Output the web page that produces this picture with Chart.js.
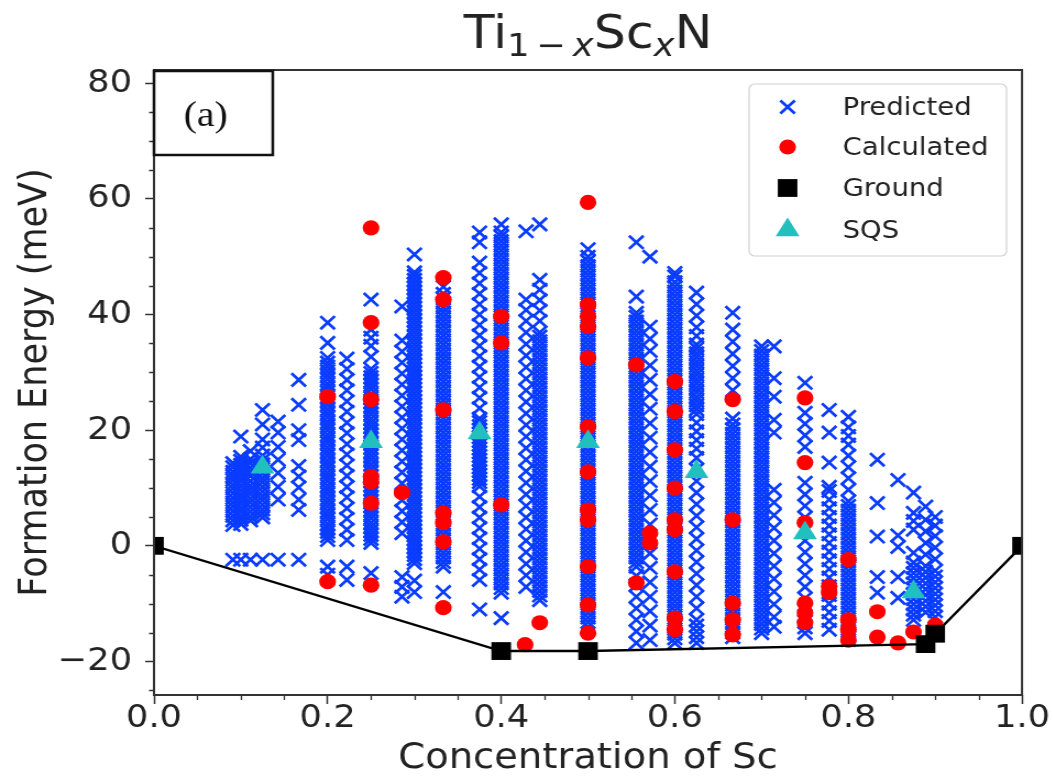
<!DOCTYPE html>
<html>
<head>
<meta charset="utf-8">
<title>Ti1-xScxN formation energy</title>
<script src="https://cdn.jsdelivr.net/npm/chart.js@4.4.0/dist/chart.umd.min.js"></script>
<style>
  html, body { margin: 0; padding: 0; background: #fff; overflow: hidden; }
  #wrap { width: 957px; height: 783px; transform: scaleX(1.1); transform-origin: 0 0; }
  #myChart { display: block; }
</style>
</head>
<body>
<div id="wrap"><canvas id="myChart" width="957" height="783"></canvas></div>
<script>
// concentration of Sc for each column of predicted structures
var predConc = [0.0909, 0.1, 0.1111, 0.125, 0.1429, 0.1667, 0.2, 0.2222, 0.25, 0.2857,
  0.3, 0.3333, 0.375, 0.4, 0.4286, 0.4444, 0.5, 0.5556, 0.5714, 0.6,
  0.625, 0.6667, 0.7, 0.7143, 0.75, 0.7778, 0.8, 0.8333, 0.8571, 0.875,
  0.8889, 0.9];

// predicted formation energies (meV), one list per column above
var predEnergy = [
  [-2.4, 3.6, 4.4, 5.2, 6.0, 6.8, 7.5, 8.3, 9.1, 9.9, 10.6, 11.4, 12.1, 12.8, 13.6, 14.3],
  [-2.4, 3.8, 4.5, 5.1, 5.9, 6.6, 7.4, 8.1, 8.8, 9.6, 10.4, 11.2, 11.9, 12.6, 13.3, 14.0, 14.7, 15.4, 18.9],
  [-2.4, 4.4, 5.1, 5.9, 6.7, 7.5, 8.2, 9.0, 9.7, 10.4, 11.2, 12.1, 12.8, 13.5, 14.3, 15.0, 16.4],
  [-2.4, 4.9, 5.6, 6.3, 7.1, 7.9, 8.6, 9.4, 10.2, 11.0, 11.7, 12.5, 13.3, 14.1, 14.8, 15.6, 17.0, 18.4, 21.0, 23.5],
  [-2.4, 8.0, 10.2, 12.6, 14.9, 17.1, 19.6, 21.5],
  [-2.4, 6.2, 8.0, 10.1, 12.0, 13.8, 18.3, 20.0, 24.4, 28.7],
  [-5.0, -3.6, 1.0, 1.7, 2.4, 3.1, 3.8, 4.6, 5.3, 6.0, 6.8, 7.5, 8.2, 9.0, 9.7, 10.4, 11.2, 11.9, 12.6, 13.4, 14.1, 14.8, 15.6, 16.3, 17.0, 17.8, 18.5, 19.2, 20.0, 20.7, 21.4, 22.2, 22.9, 23.6, 24.4, 25.1, 25.8, 26.6, 27.3, 28.0, 28.8, 29.5, 30.2, 31.0, 31.7, 32.5, 35.1, 38.6],
  [-5.9, -3.6, 1.0, 2.8, 4.7, 6.5, 8.4, 10.2, 12.1, 13.9, 15.8, 17.6, 19.5, 21.3, 23.2, 25.0, 26.9, 28.7, 30.6, 32.4],
  [-4.7, 0.5, 1.2, 1.9, 2.6, 3.3, 4.0, 4.8, 5.5, 6.2, 6.9, 7.7, 8.4, 9.1, 9.8, 10.5, 11.2, 12.0, 12.7, 13.4, 14.1, 14.9, 15.6, 16.3, 17.0, 17.7, 18.5, 19.2, 19.9, 20.6, 21.3, 22.0, 22.8, 23.5, 24.2, 24.9, 25.6, 26.3, 27.1, 27.8, 28.5, 29.2, 29.9, 30.6, 32.7, 34.6, 36.0, 37.4, 42.6],
  [-8.8, -7.1, -5.4, 2.2, 4.1, 6.0, 7.9, 10.8, 12.7, 14.6, 16.5, 18.4, 20.3, 22.2, 24.1, 26.0, 27.9, 29.8, 31.7, 33.6, 35.5, 41.4],
  [-8.0, -6.0, -3.0, -2.3, -1.6, -0.9, -0.2, 0.5, 1.2, 1.9, 2.6, 3.3, 4.0, 4.7, 5.4, 6.1, 6.8, 7.5, 8.2, 8.9, 9.6, 10.3, 11.0, 11.7, 12.4, 13.1, 13.8, 14.5, 15.2, 15.9, 16.6, 17.3, 18.0, 18.7, 19.4, 20.1, 20.8, 21.5, 22.2, 22.9, 23.6, 24.3, 25.0, 25.7, 26.4, 27.1, 27.8, 28.5, 29.2, 29.9, 30.6, 31.3, 32.0, 32.7, 33.4, 34.1, 34.8, 35.5, 36.2, 36.9, 37.6, 38.3, 39.0, 39.7, 40.4, 41.1, 41.8, 42.5, 43.2, 43.9, 44.6, 45.3, 46.0, 46.7, 47.3, 50.4],
  [-8.0, -3.6, -2.8, -2.0, -1.2, -0.4, 0.4, 1.2, 2.0, 2.8, 3.6, 4.4, 5.2, 6.0, 6.8, 7.6, 8.4, 9.2, 10.0, 10.8, 11.6, 12.4, 13.2, 14.0, 14.8, 15.6, 16.4, 17.2, 18.0, 18.8, 19.6, 20.4, 21.2, 22.0, 22.8, 23.6, 24.4, 25.2, 26.0, 26.8, 27.6, 28.4, 29.2, 30.0, 30.8, 31.6, 32.4, 33.2, 34.0, 34.8, 35.6, 36.4, 37.2, 38.0, 38.8, 39.6, 40.4, 41.2, 42.0, 42.8, 43.6, 44.8],
  [-11.0, -5.9, -4.1, -2.3, -0.5, 1.3, 3.1, 4.9, 6.7, 8.5, 10.3, 11.0, 11.6, 12.3, 12.9, 13.6, 14.2, 14.9, 15.5, 16.2, 16.8, 17.5, 18.1, 18.8, 19.4, 20.1, 20.7, 21.4, 22.0, 23.8, 25.6, 27.4, 29.2, 31.0, 32.8, 34.6, 36.4, 38.2, 40.0, 41.8, 43.6, 45.4, 47.2, 49.0, 52.5, 54.2],
  [-12.5, -8.1, -7.3, -6.5, -5.7, -4.9, -4.1, -3.3, -2.5, -1.7, -0.9, -0.1, 0.7, 1.5, 2.3, 3.1, 3.9, 4.7, 5.5, 6.3, 7.1, 7.9, 8.7, 9.5, 10.3, 11.1, 11.9, 12.7, 13.5, 14.3, 15.1, 15.9, 16.7, 17.5, 18.3, 19.1, 19.9, 20.7, 21.5, 22.3, 23.1, 23.9, 24.7, 25.5, 26.3, 27.1, 27.9, 28.7, 29.5, 30.3, 31.1, 31.9, 32.7, 33.5, 34.3, 35.1, 35.9, 36.7, 37.5, 38.3, 39.1, 39.9, 40.7, 41.5, 42.3, 43.1, 43.9, 44.7, 45.5, 46.3, 47.1, 47.9, 48.7, 49.5, 50.3, 51.1, 51.9, 52.7, 53.5, 54.2, 55.6],
  [-7.1, -5.1, -3.1, -1.1, 0.9, 2.9, 4.9, 6.9, 8.9, 10.9, 12.9, 14.9, 16.9, 18.9, 20.9, 22.9, 24.9, 26.9, 28.9, 30.9, 32.9, 34.9, 36.9, 38.9, 40.8, 42.6, 54.4],
  [-9.4, -8.6, -7.8, -7.0, -6.2, -5.4, -4.6, -3.8, -3.0, -2.2, -1.4, -0.6, 0.2, 1.0, 1.8, 2.6, 3.4, 4.2, 5.0, 5.8, 6.6, 7.4, 8.2, 9.0, 9.8, 10.6, 11.4, 12.2, 13.0, 13.8, 14.6, 15.4, 16.2, 17.0, 17.8, 18.6, 19.4, 20.2, 21.0, 21.8, 22.6, 23.4, 24.2, 25.0, 25.8, 26.6, 27.4, 28.2, 29.0, 29.8, 30.6, 31.4, 32.2, 33.0, 33.8, 34.6, 35.4, 36.2, 36.9, 38.9, 40.7, 42.5, 44.3, 46.0, 55.6],
  [-14.0, -13.2, -12.4, -11.6, -10.8, -10.0, -9.2, -8.4, -7.6, -6.8, -6.0, -5.2, -4.4, -3.6, -2.8, -2.0, -1.2, -0.4, 0.4, 1.2, 2.0, 2.8, 3.6, 4.4, 5.2, 6.0, 6.8, 7.6, 8.4, 9.2, 10.0, 10.8, 11.6, 12.4, 13.2, 14.0, 14.8, 15.6, 16.4, 17.2, 18.0, 18.8, 19.6, 20.4, 21.2, 22.0, 22.8, 23.6, 24.4, 25.2, 26.0, 26.8, 27.6, 28.4, 29.2, 30.0, 30.8, 31.6, 32.4, 33.2, 34.0, 34.8, 35.6, 36.4, 37.2, 38.0, 38.8, 39.6, 40.4, 41.2, 42.0, 42.8, 43.6, 44.4, 45.2, 46.0, 46.8, 47.6, 48.4, 49.2, 50.0, 51.3],
  [-16.8, -14.8, -12.8, -10.8, -8.8, -6.8, -5.2, -3.6, -2.8, -2.0, -1.2, -0.4, 0.4, 1.2, 2.0, 2.8, 3.6, 4.4, 5.2, 6.0, 6.8, 7.6, 8.4, 9.2, 10.0, 10.8, 11.6, 12.4, 13.2, 14.0, 14.8, 15.6, 16.4, 17.2, 18.0, 18.8, 19.6, 20.4, 21.2, 22.0, 22.8, 23.6, 24.4, 25.2, 26.0, 26.8, 27.6, 28.4, 29.2, 30.0, 30.8, 31.6, 32.4, 33.2, 34.0, 34.8, 35.6, 36.4, 37.2, 38.0, 38.8, 39.6, 40.3, 43.1, 52.5],
  [-16.3, -13.8, -11.3, -8.8, -6.3, -3.8, -1.3, 3.7, 6.2, 8.7, 11.2, 13.7, 16.2, 18.7, 21.2, 23.7, 26.2, 28.7, 31.2, 33.7, 35.8, 37.9, 50.0],
  [-16.8, -16.0, -15.2, -14.4, -13.6, -12.8, -12.0, -11.2, -10.4, -9.6, -8.8, -8.0, -7.2, -6.4, -5.6, -4.8, -4.0, -3.2, -2.4, -1.6, -0.8, 0.0, 0.8, 1.6, 2.4, 3.2, 4.0, 4.8, 5.6, 6.4, 7.2, 8.0, 8.8, 9.6, 10.4, 11.2, 12.0, 12.8, 13.6, 14.4, 15.2, 16.0, 16.8, 17.6, 18.4, 19.2, 20.0, 20.8, 21.6, 22.4, 23.2, 24.0, 24.8, 25.6, 26.4, 27.2, 28.0, 28.8, 29.6, 30.4, 31.2, 32.0, 32.8, 33.6, 34.4, 35.2, 36.0, 36.8, 37.6, 38.4, 39.2, 40.0, 40.8, 41.6, 42.4, 43.2, 44.0, 44.8, 45.6, 46.6, 47.2],
  [-16.8, -15.8, -14.8, -13.8, -12.8, -10.8, -8.8, -6.8, -4.8, -2.8, -0.8, 1.2, 3.2, 5.2, 7.2, 9.2, 11.2, 13.2, 15.2, 16.8, 18.3, 19.8, 21.3, 22.8, 23.6, 24.3, 25.1, 25.8, 26.6, 27.3, 28.1, 28.8, 29.6, 30.3, 31.1, 31.8, 32.6, 33.3, 34.1, 34.8, 36.3, 37.8, 39.8, 41.8, 43.8],
  [-15.8, -15.0, -14.2, -13.4, -12.6, -11.8, -11.0, -10.2, -9.4, -8.6, -7.8, -7.0, -6.2, -5.4, -4.6, -3.8, -3.0, -2.2, -1.4, -0.6, 0.2, 1.0, 1.8, 2.6, 3.4, 4.2, 5.0, 5.8, 6.6, 7.4, 8.2, 9.0, 9.8, 10.6, 11.4, 12.2, 13.0, 13.8, 14.6, 15.4, 16.2, 17.0, 17.8, 18.6, 19.4, 20.2, 21.0, 22.0, 26.9, 29.0, 31.1, 33.2, 35.3, 37.4, 40.3],
  [-15.1, -14.3, -13.5, -12.7, -11.9, -11.1, -10.3, -9.5, -8.7, -7.9, -7.1, -6.3, -5.5, -4.7, -3.9, -3.1, -2.3, -1.5, -0.7, 0.1, 0.9, 1.7, 2.5, 3.3, 4.1, 4.9, 5.7, 6.5, 7.3, 8.1, 8.9, 9.7, 10.5, 11.3, 12.1, 12.9, 13.7, 14.5, 15.3, 16.1, 16.9, 17.7, 18.5, 19.3, 20.1, 20.9, 21.7, 22.5, 23.3, 24.1, 24.9, 25.7, 26.5, 27.3, 28.1, 28.9, 29.7, 30.5, 31.3, 32.1, 32.9, 33.7, 34.5],
  [-14.0, -12.3, -10.1, -7.9, -5.7, -3.5, -1.3, 0.9, 3.1, 5.3, 7.5, 9.7, 19.6, 21.8, 25.8, 29.0, 34.5],
  [-15.1, -14.1, -13.1, -12.1, -11.1, -9.1, -7.1, -5.1, -3.1, -1.1, 0.9, 2.9, 4.9, 6.9, 8.9, 10.9, 17.1, 19.1, 21.1, 23.0, 28.2],
  [-14.5, -13.0, -11.5, -10.0, -8.5, -7.0, -5.5, -4.0, -2.5, -1.0, 0.5, 2.0, 3.5, 5.0, 6.5, 8.0, 9.5, 10.2, 14.4, 19.6, 23.5],
  [-16.3, -15.5, -14.7, -13.9, -13.1, -12.3, -11.5, -10.7, -9.9, -9.1, -8.3, -7.5, -6.7, -5.9, -5.1, -4.3, -3.5, -2.7, -1.9, -1.1, -0.3, 0.5, 1.3, 2.1, 2.9, 3.7, 4.5, 5.3, 6.1, 6.9, 7.7, 9.7, 11.7, 13.6, 15.6, 17.5, 19.0, 20.5, 22.3],
  [-8.1, -5.4, 1.6, 7.4, 14.9],
  [-9.0, -5.4, -0.2, 1.8, 11.4],
  [-12.8, -11.9, -11.0, -10.1, -9.2, -8.3, -7.4, -6.5, -5.6, -4.7, -3.8, -2.9, -1.2, 2.8, 4.3, 5.7, 9.2],
  [-11.5, -10.5, -9.5, -8.5, -7.5, -6.5, -5.5, -4.5, -3.5, -1.5, 0.5, 2.5, 4.5, 6.8],
  [-12.3, -11.3, -10.3, -9.3, -8.3, -7.3, -6.3, -5.3, -4.3, -2.3, -0.3, 1.7, 3.5, 5.0]
];

// calculated (DFT) structures
var calcConc = [0.2, 0.2,
  0.25, 0.25, 0.25, 0.25, 0.25, 0.25, 0.25,
  0.2857,
  0.3333, 0.3333, 0.3333, 0.3333, 0.3333, 0.3333, 0.3333,
  0.4, 0.4, 0.4, 0.4275, 0.4444,
  0.5, 0.5, 0.5, 0.5, 0.5, 0.5, 0.5, 0.5, 0.5, 0.5, 0.5, 0.5,
  0.5556, 0.5556, 0.5714, 0.5714,
  0.6, 0.6, 0.6, 0.6, 0.6, 0.6, 0.6, 0.6, 0.6,
  0.6667, 0.6667, 0.6667, 0.6667, 0.6667,
  0.75, 0.75, 0.75, 0.75, 0.75, 0.75,
  0.7778, 0.7778, 0.8, 0.8, 0.8, 0.8,
  0.8333, 0.8333, 0.8571, 0.875, 0.9];
var calcEnergy = [25.8, -6.2,
  55.0, 38.6, 25.3, 12.0, 11.0, 7.4, -6.8,
  9.2,
  46.4, 42.6, 23.5, 5.7, 4.0, 0.7, -10.7,
  39.7, 35.1, 7.1, -17.1, -13.3,
  59.4, 41.7, 39.7, 37.9, 32.5, 20.6, 12.8, 6.2, 4.5, -3.6, -10.2, -15.1,
  31.3, -6.4, 2.2, 0.5,
  28.4, 23.2, 16.6, 10.0, 4.5, 2.8, -4.5, -12.5, -14.5,
  25.3, 4.5, -9.9, -12.8, -15.4,
  25.6, 14.4, 4.0, -9.9, -11.6, -13.3,
  -8.1, -7.0, -2.4, -12.8, -14.5, -16.3,
  -11.4, -15.8, -16.8, -14.9, -13.7];

// ground states (convex hull)
var groundConc = [0.0, 0.4, 0.5, 0.8889, 0.9, 1.0];
var groundEnergy = [0.0, -18.2, -18.2, -17.0, -15.2, 0.0];

// SQS structures
var sqsConc = [0.125, 0.25, 0.375, 0.5, 0.625, 0.75, 0.875];
var sqsEnergy = [13.6, 18.0, 19.5, 18.0, 12.8, 2.2, -8.0];

var xTicks = [0.0, 0.2, 0.4, 0.6, 0.8, 1.0];
var xMinor = [0.05, 0.1, 0.15, 0.25, 0.3, 0.35, 0.45, 0.5, 0.55, 0.65, 0.7, 0.75, 0.85, 0.9, 0.95];
var yTicks = [-20, 0, 20, 40, 60, 80];
var yMinor = [-25, -15, -10, -5, 5, 10, 15, 25, 30, 35, 45, 50, 55, 65, 70, 75];

var seriesNames = ["Predicted", "Calculated", "Ground", "SQS"];
var seriesColors = ["#0a3cff", "#ff0000", "#000000", "#22bfbf"];

// canvas is drawn narrower and stretched by css (source figure is stretched)
var FONT = '"DejaVu Sans", sans-serif';
var TXT = "#222";

function pairs(xs, ys) {
  var out = [];
  for (var i = 0; i < xs.length; i++) out.push({x: xs[i], y: ys[i]});
  return out;
}

var predPoints = [];
predConc.forEach(function(c, i) {
  predEnergy[i].forEach(function(e) { predPoints.push({x: c, y: e}); });
});

var styles = [
  {pointStyle: "crossRot", radius: 9.3, borderWidth: 2.7},
  {pointStyle: "circle", radius: 7.6, borderWidth: 0},
  {pointStyle: "rect", radius: 12.6, borderWidth: 0},
  {pointStyle: "triangle", radius: 12.5, borderWidth: 0}
];

var extras = {
  id: "extras",
  afterDatasetsDraw: function(chart) {
    var ctx = chart.ctx, a = chart.chartArea;
    var xs = chart.scales.x, ys = chart.scales.y;
    ctx.save();
    // minor ticks
    ctx.strokeStyle = "#333";
    ctx.lineWidth = 1.3;
    ctx.beginPath();
    yMinor.forEach(function(v) {
      var p = Math.round(ys.getPixelForValue(v)) + 0.5;
      ctx.moveTo(a.left - 4.5, p); ctx.lineTo(a.left, p);
    });
    xMinor.forEach(function(v) {
      var p = Math.round(xs.getPixelForValue(v)) + 0.5;
      ctx.moveTo(p, a.bottom); ctx.lineTo(p, a.bottom + 5);
    });
    ctx.stroke();

    // axes frame
    ctx.strokeStyle = "#333";
    ctx.lineWidth = 2;
    ctx.strokeRect(a.left, a.top, a.right - a.left, a.bottom - a.top);

    // (a) label box
    ctx.fillStyle = "#fff";
    ctx.fillRect(a.left, a.top + 1, 108, 84);
    ctx.strokeStyle = "#111";
    ctx.lineWidth = 2.5;
    ctx.strokeRect(a.left, a.top + 1, 108, 84);
    ctx.fillStyle = "#111";
    ctx.font = '36px "Liberation Serif", serif';
    ctx.textAlign = "center";
    ctx.textBaseline = "middle";
    ctx.fillText("(a)", a.left + 47, a.top + 47);

    // legend
    var lx = 681, ly = 84, lw = 234, lh = 172;
    ctx.beginPath();
    ctx.roundRect(lx, ly, lw, lh, 5);
    ctx.fillStyle = "rgba(255,255,255,0.85)";
    ctx.fill();
    ctx.strokeStyle = "#d0d0d0";
    ctx.lineWidth = 1.2;
    ctx.stroke();
    var rows = [107, 147, 188, 230];
    seriesNames.forEach(function(name, i) {
      var s = styles[i];
      ctx.fillStyle = seriesColors[i];
      ctx.strokeStyle = seriesColors[i];
      ctx.lineWidth = s.borderWidth;
      Chart.helpers.drawPoint(ctx, {pointStyle: s.pointStyle, radius: s.radius, rotation: 0, borderWidth: s.borderWidth}, 716, rows[i]);
      ctx.fillStyle = TXT;
      ctx.font = "25px " + FONT;
      ctx.textAlign = "left";
      ctx.textBaseline = "middle";
      ctx.fillText(name, 766, rows[i] + 1);
    });
    ctx.restore();
  },
  afterDraw: function(chart) {
    // title Ti_{1-x}Sc_xN
    var ctx = chart.ctx, a = chart.chartArea;
    var parts = [["Ti", 0], ["1\u2009\u2212\u2009", 1], ["x", 2], ["Sc", 0], ["x", 2], ["N", 0]];
    var fonts = ["46px " + FONT, "32px " + FONT, "italic 32px " + FONT];
    var base = [48, 56, 56];
    ctx.save();
    var total = 0;
    parts.forEach(function(p) { ctx.font = fonts[p[1]]; total += ctx.measureText(p[0]).width; });
    var x = (a.left + a.right) / 2 - total / 2;
    ctx.fillStyle = TXT;
    ctx.textAlign = "left";
    ctx.textBaseline = "alphabetic";
    parts.forEach(function(p) {
      ctx.font = fonts[p[1]];
      ctx.fillText(p[0], x, base[p[1]]);
      x += ctx.measureText(p[0]).width;
    });
    ctx.restore();
  }
};

new Chart("myChart", {
  type: "scatter",
  data: {
    datasets: [{
      label: seriesNames[0],
      data: predPoints,
      pointStyle: styles[0].pointStyle,
      pointRadius: styles[0].radius,
      pointBorderWidth: styles[0].borderWidth,
      pointBorderColor: seriesColors[0],
      pointBackgroundColor: seriesColors[0],
      order: 4
    }, {
      label: seriesNames[1],
      data: pairs(calcConc, calcEnergy),
      pointStyle: styles[1].pointStyle,
      pointRadius: styles[1].radius,
      pointBorderWidth: 0,
      pointBackgroundColor: seriesColors[1],
      order: 3
    }, {
      label: seriesNames[2],
      data: pairs(groundConc, groundEnergy),
      showLine: true,
      borderColor: "#000",
      borderWidth: 2.4,
      pointStyle: styles[2].pointStyle,
      pointRadius: styles[2].radius,
      pointBorderWidth: 0,
      pointBackgroundColor: seriesColors[2],
      clip: 0,
      order: 2
    }, {
      label: seriesNames[3],
      data: pairs(sqsConc, sqsEnergy),
      pointStyle: styles[3].pointStyle,
      pointRadius: styles[3].radius,
      pointBorderWidth: 0,
      pointBackgroundColor: seriesColors[3],
      order: 1
    }]
  },
  options: {
    responsive: false,
    animation: false,
    events: [],
    layout: { padding: { top: 70, right: 27.9, bottom: 0, left: 0 } },
    plugins: { legend: { display: false }, tooltip: { enabled: false }, title: { display: false } },
    scales: {
      x: {
        type: "linear",
        min: 0, max: 1,
        afterFit: function(s) { s.height = 88; },
        afterBuildTicks: function(s) { s.ticks = xTicks.map(function(v) { return {value: v}; }); },
        grid: { display: true, drawOnChartArea: false, drawTicks: true, tickLength: 9, tickWidth: 1.5, tickColor: "#333" },
        border: { display: false },
        ticks: {
          padding: 0,
          color: TXT,
          font: { family: FONT, size: 32, lineHeight: 0.9 },
          maxRotation: 0,
          callback: function(v) { return v.toFixed(1); }
        },
        title: { display: true, text: "Concentration of Sc", color: TXT, font: { family: FONT, size: 35, lineHeight: 1.2 }, padding: { top: 0, bottom: 3 } }
      },
      y: {
        type: "linear",
        min: -25.8, max: 82.3,
        afterFit: function(s) { s.width = 140; },
        afterBuildTicks: function(s) { s.ticks = yTicks.map(function(v) { return {value: v}; }); },
        grid: { display: true, drawOnChartArea: false, drawTicks: true, tickLength: 8, tickWidth: 1.5, tickColor: "#333" },
        border: { display: false },
        ticks: {
          padding: 12,
          color: TXT,
          font: { family: FONT, size: 32, lineHeight: 1 },
          callback: function(v) { return v < 0 ? "\u2212" + Math.abs(v) : String(v); }
        },
        title: { display: true, text: "Formation Energy (meV)", color: TXT, font: { family: FONT, size: 35, lineHeight: 1.2 }, padding: { top: 12, bottom: 0 } }
      }
    }
  },
  plugins: [extras]
});
</script>
</body>
</html>
